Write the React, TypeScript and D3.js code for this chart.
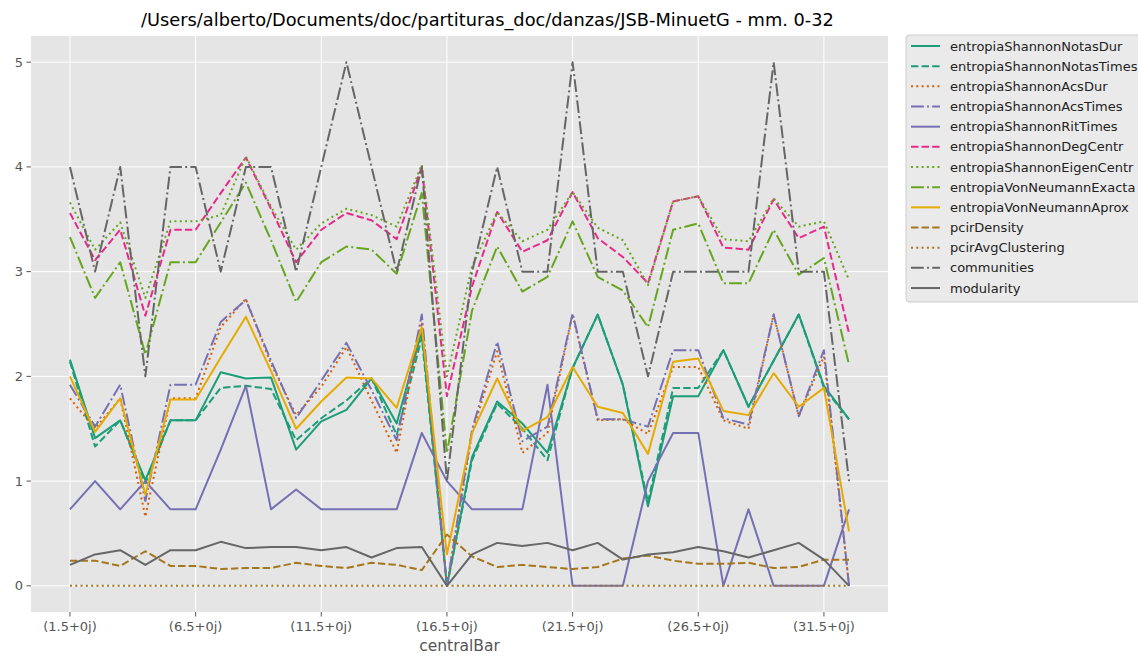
import React from "react";
import * as d3 from "d3";

const categories: string[] = [
  "(1.5+0j)", "(2.5+0j)", "(3.5+0j)", "(4.5+0j)", "(5.5+0j)", "(6.5+0j)", "(7.5+0j)", "(8.5+0j)",
  "(9.5+0j)", "(10.5+0j)", "(11.5+0j)", "(12.5+0j)", "(13.5+0j)", "(14.5+0j)", "(15.5+0j)", "(16.5+0j)",
  "(17.5+0j)", "(18.5+0j)", "(19.5+0j)", "(20.5+0j)", "(21.5+0j)", "(22.5+0j)", "(23.5+0j)", "(24.5+0j)",
  "(25.5+0j)", "(26.5+0j)", "(27.5+0j)", "(28.5+0j)", "(29.5+0j)", "(30.5+0j)", "(31.5+0j)", "(32.5+0j)",
];
const xTickIdx: number[] = [0, 5, 10, 15, 20, 25, 30];
const yTicks: number[] = [0, 1, 2, 3, 4, 5];

const entropiaShannonNotasDur = [2.16, 1.41, 1.58, 1.01, 1.58, 1.58, 2.04, 1.98, 1.99, 1.30, 1.57, 1.68, 1.98, 1.55, 2.43, 0, 1.23, 1.76, 1.55, 1.27, 2.08, 2.59, 1.92, 0.76, 1.81, 1.81, 2.25, 1.71, 2.15, 2.59, 1.91, 1.59];
const entropiaShannonNotasTimes = [2.14, 1.33, 1.58, 0.98, 1.58, 1.58, 1.89, 1.91, 1.88, 1.39, 1.60, 1.77, 1.98, 1.44, 2.37, 0, 1.20, 1.74, 1.50, 1.20, 2.08, 2.59, 1.92, 0.80, 1.89, 1.89, 2.25, 1.71, 2.15, 2.59, 1.89, 1.59];
const entropiaShannonAcsDur = [1.79, 1.50, 1.79, 0.66, 1.79, 1.79, 2.47, 2.74, 2.12, 1.63, 1.90, 2.28, 1.77, 1.27, 2.52, 0, 1.46, 2.24, 1.27, 1.46, 2.59, 1.58, 1.59, 1.45, 2.09, 2.09, 1.58, 1.50, 2.59, 1.62, 2.19, 0];
const entropiaShannonAcsTimes = [1.92, 1.52, 1.92, 0.81, 1.92, 1.92, 2.52, 2.73, 2.15, 1.60, 1.96, 2.32, 1.87, 1.39, 2.59, 0, 1.49, 2.33, 1.38, 1.52, 2.60, 1.59, 1.59, 1.52, 2.25, 2.25, 1.60, 1.54, 2.59, 1.62, 2.25, 0];
const entropiaShannonRitTimes = [0.73, 1.0, 0.73, 1.0, 0.73, 0.73, 1.30, 1.91, 0.73, 0.92, 0.73, 0.73, 0.73, 0.73, 1.46, 1.0, 0.73, 0.73, 0.73, 1.92, 0, 0, 0, 1.0, 1.46, 1.46, 0, 0.73, 0, 0, 0, 0.73];
const entropiaShannonDegCentr = [3.56, 3.11, 3.40, 2.58, 3.40, 3.40, 3.75, 4.09, 3.60, 3.09, 3.40, 3.56, 3.49, 3.31, 4.0, 1.81, 2.86, 3.57, 3.19, 3.30, 3.76, 3.32, 3.14, 2.89, 3.67, 3.72, 3.23, 3.21, 3.69, 3.32, 3.43, 2.41];
const entropiaShannonEigenCentr = [3.66, 3.21, 3.47, 2.75, 3.48, 3.48, 3.54, 4.10, 3.62, 3.21, 3.46, 3.60, 3.54, 3.43, 4.02, 2.0, 3.05, 3.57, 3.29, 3.40, 3.76, 3.42, 3.30, 2.87, 3.67, 3.72, 3.31, 3.29, 3.70, 3.43, 3.48, 2.92];
const entropiaVonNeumannExacta = [3.33, 2.75, 3.09, 2.21, 3.09, 3.09, 3.47, 3.85, 3.30, 2.71, 3.09, 3.24, 3.21, 2.98, 3.75, 1.27, 2.63, 3.24, 2.81, 2.95, 3.48, 2.95, 2.82, 2.47, 3.40, 3.46, 2.89, 2.89, 3.40, 2.97, 3.13, 2.11];
const entropiaVonNeumannAprox = [2.0, 1.47, 1.79, 0.87, 1.78, 1.78, 2.18, 2.57, 2.05, 1.50, 1.76, 1.99, 1.98, 1.70, 2.47, 0.30, 1.46, 1.98, 1.48, 1.61, 2.09, 1.71, 1.65, 1.26, 2.14, 2.17, 1.67, 1.63, 2.03, 1.71, 1.89, 0.52];
const pcirDensity = [0.24, 0.24, 0.19, 0.33, 0.19, 0.19, 0.16, 0.17, 0.17, 0.22, 0.19, 0.17, 0.22, 0.20, 0.15, 0.49, 0.28, 0.18, 0.20, 0.18, 0.16, 0.18, 0.26, 0.29, 0.24, 0.21, 0.21, 0.22, 0.17, 0.18, 0.25, 0.25];
const pcirAvgClustering = [0, 0, 0, 0, 0, 0, 0, 0, 0, 0, 0, 0, 0, 0, 0, 0, 0, 0, 0, 0, 0, 0, 0, 0, 0, 0, 0, 0, 0, 0, 0, 0];
const communities = [4, 3, 4, 2, 4, 4, 3, 4, 4, 3, 4, 5, 4, 3, 4, 1, 3, 4, 3, 3, 5, 3, 3, 2, 3, 3, 3, 3, 5, 3, 3, 1];
const modularity = [0.20, 0.30, 0.34, 0.20, 0.34, 0.34, 0.42, 0.36, 0.37, 0.37, 0.34, 0.37, 0.27, 0.36, 0.37, 0, 0.30, 0.41, 0.38, 0.41, 0.34, 0.41, 0.25, 0.30, 0.32, 0.37, 0.33, 0.27, 0.34, 0.41, 0.25, 0];

const seriesNames = [
  "entropiaShannonNotasDur", "entropiaShannonNotasTimes", "entropiaShannonAcsDur", "entropiaShannonAcsTimes",
  "entropiaShannonRitTimes", "entropiaShannonDegCentr", "entropiaShannonEigenCentr", "entropiaVonNeumannExacta",
  "entropiaVonNeumannAprox", "pcirDensity", "pcirAvgClustering", "communities", "modularity",
];
const seriesValues = [
  entropiaShannonNotasDur, entropiaShannonNotasTimes, entropiaShannonAcsDur, entropiaShannonAcsTimes,
  entropiaShannonRitTimes, entropiaShannonDegCentr, entropiaShannonEigenCentr, entropiaVonNeumannExacta,
  entropiaVonNeumannAprox, pcirDensity, pcirAvgClustering, communities, modularity,
];
const seriesColors = ["#1b9e77", "#1b9e77", "#d95f02", "#7570b3", "#7570b3", "#e7298a", "#66a61e", "#66a61e", "#e6ab02", "#a6761d", "#a6761d", "#666666", "#666666"];
const seriesStyles = ["solid", "dashed", "dotted", "dashdot", "solid", "dashed", "dotted", "dashdot", "solid", "dashed", "dotted", "dashdot", "solid"];

const LW = 2;
const dashFor = (s: string): string | undefined => {
  if (s === "dashed") return `${3.7 * LW} ${1.6 * LW}`;
  if (s === "dotted") return `${1 * LW} ${1.65 * LW}`;
  if (s === "dashdot") return `${6.4 * LW} ${1.6 * LW} ${1 * LW} ${1.6 * LW}`;
  return undefined;
};

const W = 1138, H = 656;
const PL = 31, PR = 888, PT = 36, PB = 612;
const FONT = "DejaVu Sans, sans-serif";

export default function App() {
  const n = categories.length;
  const x = d3.scaleLinear().domain([-0.05 * (n - 1), (n - 1) * 1.05]).range([PL, PR]);
  const y = d3.scaleLinear().domain([-0.25, 5.25]).range([PB, PT]);
  const line = (vals: number[]) =>
    d3.line<number>().x((_, i) => x(i)).y((v) => y(v))(vals) || "";

  const legX = 906, legY = 35, rowH = 20.17;

  return (
    <svg width={W} height={H} style={{ position: "absolute", left: 0, top: 0, background: "#fff" }} fontFamily={FONT}>
      <rect x={PL} y={PT} width={PR - PL} height={PB - PT} fill="#E5E5E5" />
      {yTicks.map((t) => (
        <line key={"gy" + t} x1={PL} x2={PR} y1={y(t)} y2={y(t)} stroke="#fff" strokeWidth={1} />
      ))}
      {xTickIdx.map((i) => (
        <line key={"gx" + i} x1={x(i)} x2={x(i)} y1={PT} y2={PB} stroke="#fff" strokeWidth={1} />
      ))}
      <defs>
        <clipPath id="plotclip">
          <rect x={PL} y={PT} width={PR - PL} height={PB - PT} />
        </clipPath>
      </defs>
      <g clipPath="url(#plotclip)">
        {seriesValues.map((vals, k) => (
          <path key={seriesNames[k]} d={line(vals)} fill="none" stroke={seriesColors[k]} strokeWidth={LW}
            strokeDasharray={dashFor(seriesStyles[k])} strokeLinejoin="round" />
        ))}
      </g>
      {xTickIdx.map((i) => (
        <g key={"tx" + i}>
          <line x1={x(i)} x2={x(i)} y1={PB} y2={PB + 4.5} stroke="#555" strokeWidth={1} />
          <text x={x(i)} y={PB + 19} textAnchor="middle" fontSize={13} fill="#555">{categories[i]}</text>
        </g>
      ))}
      {yTicks.map((t) => (
        <g key={"ty" + t}>
          <line x1={PL - 4.5} x2={PL} y1={y(t)} y2={y(t)} stroke="#555" strokeWidth={1} />
          <text x={PL - 8} y={y(t) + 4.5} textAnchor="end" fontSize={13} fill="#555">{t}</text>
        </g>
      ))}
      <text x={(PL + PR) / 2} y={651} textAnchor="middle" fontSize={15.5} fill="#555">centralBar</text>
      <text x={487.5} y={26} textAnchor="middle" fontSize={17.8} fill="#000">/Users/alberto/Documents/doc/partituras_doc/danzas/JSB-MinuetG - mm. 0-32</text>
      <rect x={legX} y={legY} width={260} height={267} rx={3} fill="#EAEAEA" stroke="#CCCCCC" strokeWidth={1} />
      {seriesNames.map((name, k) => {
        const cy = legY + 11 + k * rowH;
        return (
          <g key={"lg" + name}>
            <line x1={911} x2={940} y1={cy} y2={cy} stroke={seriesColors[k]} strokeWidth={LW}
              strokeDasharray={dashFor(seriesStyles[k])} />
            <text x={950} y={cy + 4.5} fontSize={13} fill="#222">{name}</text>
          </g>
        );
      })}
    </svg>
  );
}
